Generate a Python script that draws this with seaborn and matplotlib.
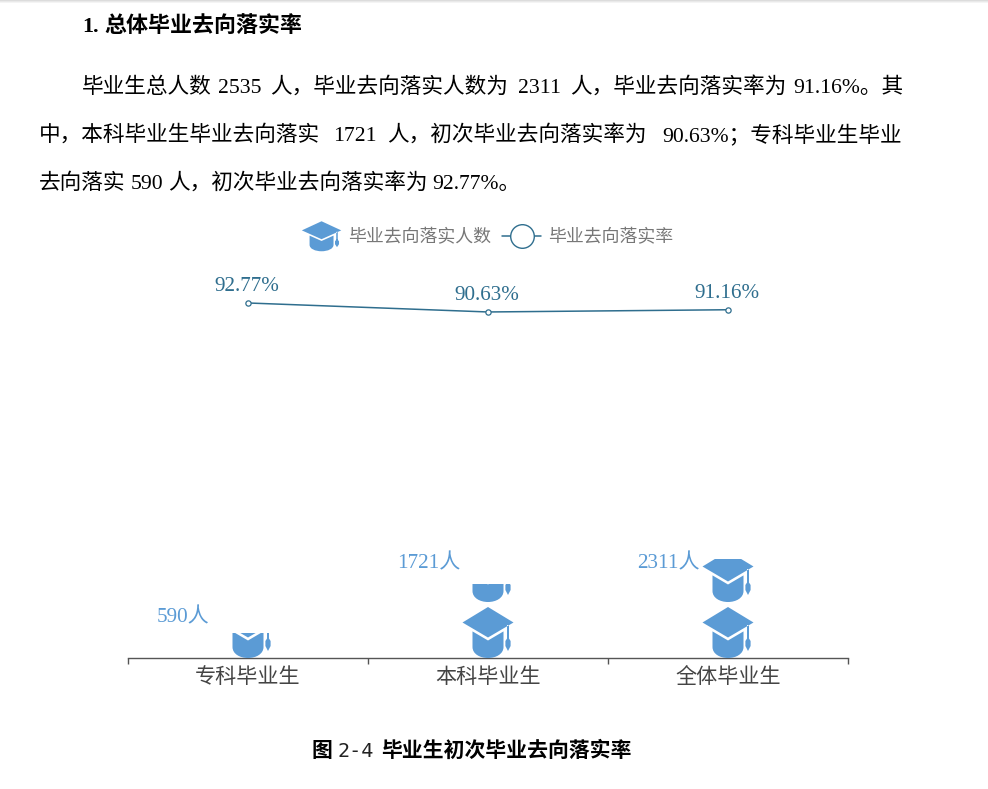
import numpy as np
import pandas as pd
import seaborn as sns
import matplotlib
matplotlib.use("Agg")
import matplotlib.pyplot as plt
from matplotlib.path import Path
from matplotlib.patches import PathPatch, Patch, Rectangle
from matplotlib.lines import Line2D
from matplotlib.legend_handler import HandlerPatch
from matplotlib.transforms import Affine2D

categories = ["专科毕业生", "本科毕业生", "全体毕业生"]
counts = [590, 1721, 2311]
rates = [92.77, 90.63, 91.16]
count_labels = ["590人", "1721人", "2311人"]
rate_labels = ["92.77%", "90.63%", "91.16%"]
legend_labels = ["毕业去向落实人数", "毕业去向落实率"]

W, H = 988, 789
BLUE = "#5B9BD5"
TEAL = "#2F6E8E"
FONT = ["Liberation Serif", "Noto Sans CJK SC"]

sns.set_theme(style="white")
plt.rcParams["font.family"] = FONT

fig = plt.figure(figsize=(W / 100, H / 100), dpi=100, facecolor="white")


def px_text(x, y, s, **kw):
    kw.setdefault("fontsize", 15.6)
    kw.setdefault("va", "baseline")
    kw.setdefault("color", "black")
    return fig.text(x / W, 1 - y / H, s, **kw)


# browser-like shadow on the top edge of the page
for row, shade in enumerate(["#dcdcdc", "#e9e9e9", "#f4f4f4"]):
    fig.add_artist(Rectangle((0, 1 - (row + 1) / H), 1, 1 / H, transform=fig.transFigure,
                             facecolor=shade, edgecolor="none"))

px_text(82, 32, "1.", fontsize=15.8, fontweight="bold")
px_text(104, 32, "总体毕业去向落实率", fontsize=15.8, fontweight="bold")

body_lines = [
    (93, [(82, "毕业生总人数"), (218, "2535"), (270, "人，毕业去向落实人数为"),
          (518, "2311"), (570, "人，毕业去向落实率为"), (793, "91.16%。其")]),
    (141, [(39, "中，本科毕业生毕业去向落实"), (333, "1721"), (387, "人，初次毕业去向落实率为"),
           (662, "90.63%；专科毕业生毕业")]),
    (189, [(39, "去向落实"), (131, "590"), (168, "人，初次毕业去向落实率为"), (432, "92.77%。")]),
]
for y, segments in body_lines:
    for x, s in segments:
        px_text(x, y, s)

px_text(311, 757, "图", fontsize=15, fontweight="bold")
px_text(337, 757, "2-4", fontsize=14.5, family="DejaVu Sans Mono", color="#222222")
px_text(381, 757, "毕业生初次毕业去向落实率", fontsize=15, fontweight="bold")

# ---- plot axes ----
left, right, top, bottom = 128, 848, 263, 658
ax = fig.add_axes([left / W, 1 - bottom / H, (right - left) / W, (bottom - top) / H])
ax.patch.set_alpha(0)

df = pd.DataFrame({"cat": categories, "count": counts, "rate": rates})
sns.barplot(data=df, x="cat", y="count", ax=ax, width=1.0, fill=True,
            color="white", linewidth=0, saturation=1)
bars = list(ax.patches)
for b in bars:
    b.set_alpha(0)
ax.set_xlim(-0.5, 2.5)
ax.set_ylim(0, 9220)
ax.set_xlabel("")
ax.set_ylabel("")
ax.set_yticks([])
ax.set_xticks([-0.5, 0.5, 1.5, 2.5], labels=[""] * 4)
ax.set_xticks(range(3), labels=categories, minor=True)
ax.tick_params(axis="x", which="major", length=4, width=1, color="#555555", direction="out", bottom=True)
ax.tick_params(axis="x", which="minor", length=0, labelsize=15.2, labelcolor="#444444", pad=18, bottom=True)
for lab in ax.get_xticklabels(minor=True):
    lab.set_verticalalignment("baseline")
for sp in ["left", "right", "top"]:
    ax.spines[sp].set_visible(False)
ax.spines["bottom"].set_color("#555555")
ax.spines["bottom"].set_linewidth(1)

# graduation-cap symbol, pixel units, origin at bottom centre
M, L, C, Z = Path.MOVETO, Path.LINETO, Path.CURVE4, Path.CLOSEPOLY
cap_v = [(0, 51), (25.5, 35.5), (0, 20.5), (-25.5, 35.5), (0, 51),
         (-15.5, 26.6), (-15.5, 11), (-15.5, 4), (-8, 0), (0, 0), (8, 0), (15.5, 4), (15.5, 11),
         (15.5, 26.6), (0, 17.5), (-15.5, 26.6),
         (19, 33), (19, 18), (21, 18), (21, 33), (19, 33),
         (20, 21), (17.4, 17), (17.4, 12), (20, 7), (22.6, 12), (22.6, 17), (20, 21)]
cap_c = [M, L, L, L, Z,
         M, L, C, C, C, C, C, C,
         L, L, Z,
         M, L, L, L, Z,
         M, L, L, L, L, L, Z]
CAP = Path(np.array(cap_v, float), cap_c)
PERIOD = 56

ax.figure.canvas.draw()
for i, bar in enumerate(bars):
    x0, y0 = ax.transData.transform((i, 0))
    n = int(np.ceil(counts[i] / (PERIOD * 9220 / (bottom - top))))
    for k in range(n):
        p = PathPatch(CAP, facecolor=BLUE, edgecolor="none", lw=0,
                      transform=Affine2D().translate(x0, y0 + k * PERIOD), zorder=3)
        ax.add_patch(p)
        p.set_clip_path(bar)

# count labels: left-aligned beside each pictorial bar
count_dy = [10, 16, -9]
for i, s in enumerate(count_labels):
    ax.annotate(s, (i, counts[i]), xytext=(-91 * 0.72, count_dy[i] * 0.72), textcoords="offset points",
                ha="left", va="baseline", fontsize=15.2, color=BLUE, annotation_clip=False)

# ---- rate line ----
ax2 = ax.twinx()
ax2.patch.set_alpha(0)
sns.lineplot(data=df, x="cat", y="rate", ax=ax2, color=TEAL, linewidth=1.1, marker="o",
             markersize=3.8, markerfacecolor="white", markeredgecolor=TEAL, markeredgewidth=0.9,
             errorbar=None, legend=False, sort=False)
ax2.set_ylim(8.24, 102.29)
ax2.set_xlim(-0.5, 2.5)
ax2.set_ylabel("")
ax2.set_yticks([])
for sp in ax2.spines.values():
    sp.set_visible(False)
for i, s in enumerate(rate_labels):
    ax2.annotate(s, (i, rates[i]), xytext=(-0.7, 12 * 0.72), textcoords="offset points",
                 ha="center", va="baseline", fontsize=15.2, color=TEAL)


# ---- legend ----
def cap_handle(legend, orig_handle, xdescent, ydescent, width, height, fontsize):
    tr = Affine2D().scale(width / 51, 21.6 / 51).translate(width / 2 - xdescent, height / 2 - 10.8 - ydescent)
    return PathPatch(CAP.transformed(tr))


handles = [Patch(facecolor=BLUE, edgecolor="none", linewidth=0),
           Line2D([0], [0], color=TEAL, lw=1.1, marker="o", markersize=17,
                  markerfacecolor="white", markeredgecolor=TEAL, markeredgewidth=1)]
leg = ax2.legend(handles, legend_labels, ncol=2, frameon=False, fontsize=12.9,
                 loc="center", bbox_to_anchor=(487.5 / W, 1 - 238 / H), bbox_transform=fig.transFigure,
                 handlelength=2.2, handletextpad=0.37, columnspacing=0.62, borderpad=0, borderaxespad=0,
                 labelcolor="#777777",
                 handler_map={Patch: HandlerPatch(patch_func=cap_handle)})

fig.savefig("out.png", dpi=100, facecolor="white")
